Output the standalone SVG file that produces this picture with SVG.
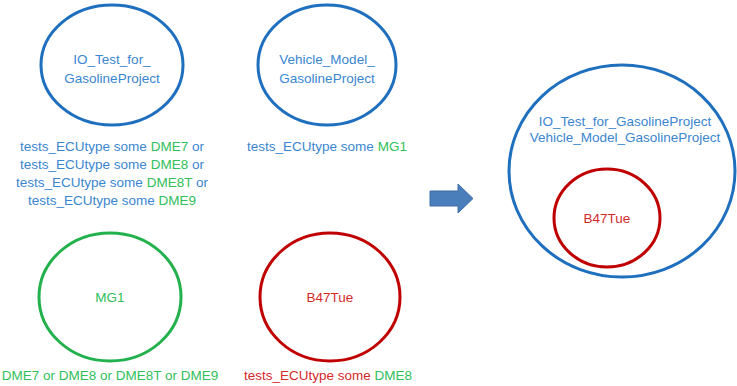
<svg xmlns="http://www.w3.org/2000/svg" width="737" height="386" viewBox="0 0 737 386">
<style>
text{font-family:"Liberation Sans",Arial,sans-serif;font-size:13.5px;text-anchor:middle}
.b{fill:#3a86d0}.g{fill:#2fc05a}.r{fill:#d42a2a}
.cb{fill:none;stroke:#1f6fbf;stroke-width:3}
.cg{fill:none;stroke:#22b14c;stroke-width:3}
.cr{fill:none;stroke:#c00000;stroke-width:3}
</style>
<rect width="737" height="386" fill="#fff"/>
<g id="io_test">
<ellipse class="cb" cx="112" cy="65" rx="71" ry="60"/>
<text class="b" x="112" y="64">IO_Test_for_</text>
<text class="b" x="112" y="83">GasolineProject</text>
<text x="112" y="151"><tspan class="b">tests_ECUtype some </tspan><tspan class="g">DME7</tspan><tspan class="b"> or</tspan></text>
<text x="112" y="169"><tspan class="b">tests_ECUtype some </tspan><tspan class="g">DME8</tspan><tspan class="b"> or</tspan></text>
<text x="112" y="187"><tspan class="b">tests_ECUtype some </tspan><tspan class="g">DME8T</tspan><tspan class="b"> or</tspan></text>
<text x="112" y="205"><tspan class="b">tests_ECUtype some </tspan><tspan class="g">DME9</tspan></text>
</g>
<g id="vehicle_model">
<ellipse class="cb" cx="327" cy="65" rx="69" ry="60"/>
<text class="b" x="327" y="64">Vehicle_Model_</text>
<text class="b" x="327" y="83">GasolineProject</text>
<text x="327" y="151"><tspan class="b">tests_ECUtype some </tspan><tspan class="g">MG1</tspan></text>
</g>
<g id="mg1">
<ellipse class="cg" cx="110" cy="297" rx="71" ry="64"/>
<text class="g" x="110" y="302">MG1</text>
<text class="g" x="110" y="380">DME7 or DME8 or DME8T or DME9</text>
</g>
<g id="b47tue">
<ellipse class="cr" cx="330" cy="297" rx="70" ry="64"/>
<text class="r" x="330" y="302">B47Tue</text>
<text x="328" y="380"><tspan class="r">tests_ECUtype some </tspan><tspan class="g">DME8</tspan></text>
</g>
<g id="connectors">
<polygon points="430,191 458,191 458,184 473,198.5 458,213 458,206 430,206" fill="#4a7ebb" stroke="#3d6fa8" stroke-width="1"/>
</g>
<g id="result">
<ellipse class="cb" cx="622" cy="171" rx="113" ry="106"/>
<text class="b" x="625" y="126">IO_Test_for_GasolineProject</text>
<text class="b" x="625" y="142">Vehicle_Model_GasolineProject</text>
<ellipse class="cr" cx="607" cy="218" rx="53" ry="49"/>
<text class="r" x="607" y="223">B47Tue</text>
</g>
</svg>
